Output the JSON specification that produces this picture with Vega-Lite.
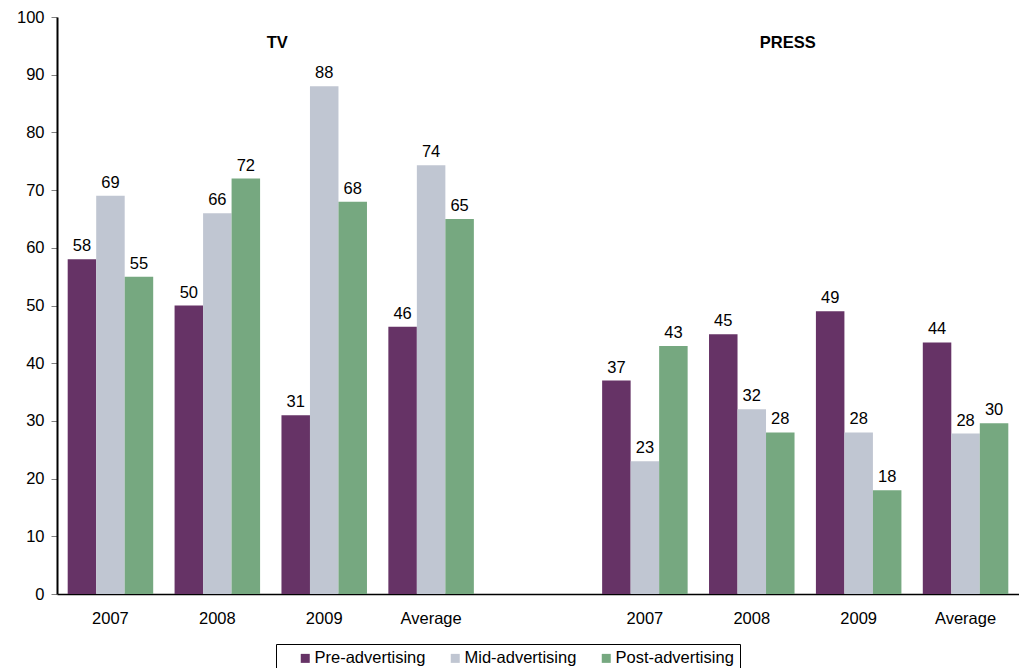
{
  "$schema": "https://vega.github.io/schema/vega-lite/v6.json",
  "autosize": {"type": "none"},
  "padding": {"left": 57, "top": 17, "right": 0, "bottom": 74},
  "width": 962,
  "height": 577,
  "config": {
    "font": "Liberation Sans",
    "view": {"stroke": null},
    "axis": {"grid": false, "labelFont": "Liberation Sans", "labelFontSize": 16.5, "labelColor": "#000000", "title": null}
  },
  "data": {
    "values": [
      {"slot": "TV|2007", "series": "Pre-advertising", "value": 58},
      {"slot": "TV|2007", "series": "Mid-advertising", "value": 69},
      {"slot": "TV|2007", "series": "Post-advertising", "value": 55},
      {"slot": "TV|2008", "series": "Pre-advertising", "value": 50},
      {"slot": "TV|2008", "series": "Mid-advertising", "value": 66},
      {"slot": "TV|2008", "series": "Post-advertising", "value": 72},
      {"slot": "TV|2009", "series": "Pre-advertising", "value": 31},
      {"slot": "TV|2009", "series": "Mid-advertising", "value": 88},
      {"slot": "TV|2009", "series": "Post-advertising", "value": 68},
      {"slot": "TV|Average", "series": "Pre-advertising", "value": 46.3},
      {"slot": "TV|Average", "series": "Mid-advertising", "value": 74.3},
      {"slot": "TV|Average", "series": "Post-advertising", "value": 65},
      {"slot": "PRESS|2007", "series": "Pre-advertising", "value": 37},
      {"slot": "PRESS|2007", "series": "Mid-advertising", "value": 23},
      {"slot": "PRESS|2007", "series": "Post-advertising", "value": 43},
      {"slot": "PRESS|2008", "series": "Pre-advertising", "value": 45},
      {"slot": "PRESS|2008", "series": "Mid-advertising", "value": 32},
      {"slot": "PRESS|2008", "series": "Post-advertising", "value": 28},
      {"slot": "PRESS|2009", "series": "Pre-advertising", "value": 49},
      {"slot": "PRESS|2009", "series": "Mid-advertising", "value": 28},
      {"slot": "PRESS|2009", "series": "Post-advertising", "value": 18},
      {"slot": "PRESS|Average", "series": "Pre-advertising", "value": 43.6},
      {"slot": "PRESS|Average", "series": "Mid-advertising", "value": 27.8},
      {"slot": "PRESS|Average", "series": "Post-advertising", "value": 29.6}
    ]
  },
  "encoding": {
    "x": {
      "field": "slot",
      "type": "nominal",
      "scale": {
        "domain": ["TV|2007", "TV|2008", "TV|2009", "TV|Average", "gap", "PRESS|2007", "PRESS|2008", "PRESS|2009", "PRESS|Average"],
        "paddingInner": 0.2,
        "paddingOuter": 0.1
      },
      "axis": {
        "labelAngle": 0,
        "labelExpr": "indexof(datum.value, '|') >= 0 ? split(datum.value, '|')[1] : ''",
        "ticks": false,
        "labelPadding": 16,
        "domainColor": "#000000",
        "domainWidth": 1.5
      }
    },
    "y": {
      "field": "value",
      "type": "quantitative",
      "scale": {"domain": [0, 100], "nice": false},
      "axis": {
        "values": [0, 10, 20, 30, 40, 50, 60, 70, 80, 90, 100],
        "tickSize": 6,
        "tickColor": "#808080",
        "labelPadding": 7,
        "domainColor": "#000000",
        "domainWidth": 2
      }
    }
  },
  "layer": [
    {
      "mark": {"type": "bar"},
      "encoding": {
        "xOffset": {
          "field": "series",
          "type": "nominal",
          "scale": {"domain": ["Pre-advertising", "Mid-advertising", "Post-advertising"]}
        },
        "color": {
          "field": "series",
          "type": "nominal",
          "scale": {
            "domain": ["Pre-advertising", "Mid-advertising", "Post-advertising"],
            "range": ["#663366", "#C0C6D2", "#76A880"]
          },
          "legend": {
            "title": null,
            "orient": "none",
            "legendX": 219,
            "legendY": 627,
            "direction": "horizontal",
            "columns": 3,
            "symbolType": "square",
            "symbolSize": 81,
            "symbolStrokeWidth": 0,
            "symbolOffset": 15,
            "labelOffset": 1,
            "columnPadding": 6,
            "labelFont": "Liberation Sans",
            "labelFontSize": 16.5,
            "labelColor": "#000000",
            "padding": 6,
            "strokeColor": "#000000",
            "fillColor": "#ffffff"
          }
        }
      }
    },
    {
      "mark": {"type": "text", "baseline": "alphabetic", "dy": -8, "fontSize": 16.5, "color": "#000000"},
      "encoding": {
        "xOffset": {
          "field": "series",
          "type": "nominal",
          "scale": {"domain": ["Pre-advertising", "Mid-advertising", "Post-advertising"]}
        },
        "text": {"field": "value", "type": "quantitative", "format": ".0f"}
      }
    },
    {
      "data": {"values": [{"slot": "TV|2008", "panel": "TV", "value": 95.5}]},
      "mark": {"type": "text", "fontSize": 16.5, "fontWeight": "bold", "baseline": "middle", "color": "#000000"},
      "encoding": {
        "x": {"field": "slot", "type": "nominal", "bandPosition": 1.2},
        "text": {"field": "panel"}
      }
    },
    {
      "data": {"values": [{"slot": "PRESS|2008", "panel": "PRESS", "value": 95.5}]},
      "mark": {"type": "text", "fontSize": 16.5, "fontWeight": "bold", "baseline": "middle", "color": "#000000"},
      "encoding": {
        "x": {"field": "slot", "type": "nominal", "bandPosition": 0.92},
        "text": {"field": "panel"}
      }
    }
  ]
}
